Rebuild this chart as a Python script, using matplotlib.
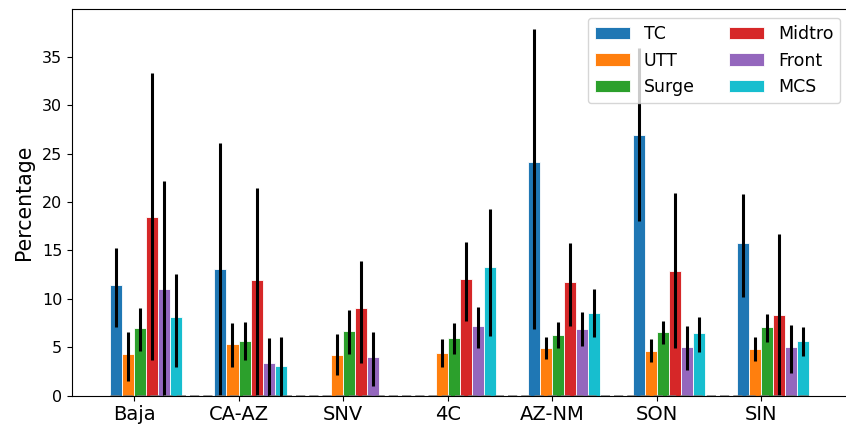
import numpy as np
import matplotlib
matplotlib.use('Agg')
import matplotlib.pyplot as plt

regions = ['Baja', 'CA-AZ', 'SNV', '4C', 'AZ-NM', 'SON', 'SIN']
types = ['TC', 'UTT', 'Surge', 'Midtro', 'Front', 'MCS']
colors = ['tab:blue', 'tab:orange', 'tab:green', 'tab:red', 'tab:purple', 'tab:cyan']

nan = np.nan
# mean percentage per region, one list per type
tc     = [11.4, 13.04, nan, nan, 24.18, 26.97, 15.72]
utt    = [4.3, 5.37, 4.2, 4.44, 4.92, 4.64, 4.85]
surge  = [6.95, 5.65, 6.67, 5.95, 6.3, 6.54, 7.12]
midtro = [18.5, 11.9, 9.01, 12.0, 11.76, 12.9, 8.32]
front  = [11.05, 3.41, 3.99, 7.19, 6.88, 5.02, 5.02]
mcs    = [8.1, 3.07, nan, 13.31, 8.53, 6.47, 5.68]

# lower / upper end of the error bars
tc_lo     = [7.05, 0.0, nan, nan, 6.88, 18.06, 10.15]
tc_hi     = [15.3, 26.1, nan, nan, 37.87, 35.91, 20.81]
utt_lo    = [1.55, 3.0, 2.13, 2.92, 3.75, 3.44, 3.61]
utt_hi    = [6.6, 7.47, 6.33, 5.85, 6.05, 5.85, 6.05]
surge_lo  = [4.65, 3.68, 4.3, 4.27, 4.95, 5.33, 5.57]
surge_hi  = [9.05, 7.64, 8.84, 7.53, 7.57, 7.71, 8.43]
midtro_lo = [3.65, 0.0, 3.34, 7.72, 7.19, 4.88, 0.0]
midtro_hi = [33.3, 21.47, 13.9, 15.84, 15.82, 20.95, 16.65]
front_lo  = [0.0, 0.0, 1.0, 4.95, 5.16, 2.65, 2.3]
front_hi  = [22.2, 5.99, 6.54, 9.18, 8.63, 7.19, 7.26]
mcs_lo    = [2.95, 0.0, nan, 6.19, 6.02, 4.54, 4.09]
mcs_hi    = [12.55, 6.06, nan, 19.33, 11.04, 8.15, 7.05]

means = [tc, utt, surge, midtro, front, mcs]
lows = [tc_lo, utt_lo, surge_lo, midtro_lo, front_lo, mcs_lo]
highs = [tc_hi, utt_hi, surge_hi, midtro_hi, front_hi, mcs_hi]

fig = plt.figure(figsize=(8.46, 4.29), dpi=100)
ax = fig.add_axes([0.0851, 0.0776, 0.9184, 0.9007])

x = np.arange(len(regions))
w = 0.115

for i in range(len(types)):
    m = np.array(means[i])
    err = [m - np.array(lows[i]), np.array(highs[i]) - m]
    ax.bar(x + (i - 2) * w, m, width=w, align='edge', color=colors[i],
           edgecolor='white', linewidth=0.6, label=types[i],
           yerr=err, error_kw=dict(ecolor='black', elinewidth=2.2, capsize=0))

ax.plot([x[0] - 2 * w, x[-1] + 4 * w], [0, 0], '--', color='gray', lw=1.8)

ax.set_xlim(-0.593, 6.84)
ax.set_ylim(0, 39.9)
ax.set_xticks(x)
ax.set_xticklabels(regions, fontsize=14)
ax.tick_params(axis='y', labelsize=11.5)
ax.set_ylabel('Percentage', fontsize=14.8, labelpad=6)
ax.legend(ncol=2, fontsize=12.5, loc='upper right')

fig.savefig('out.png', dpi=100)
